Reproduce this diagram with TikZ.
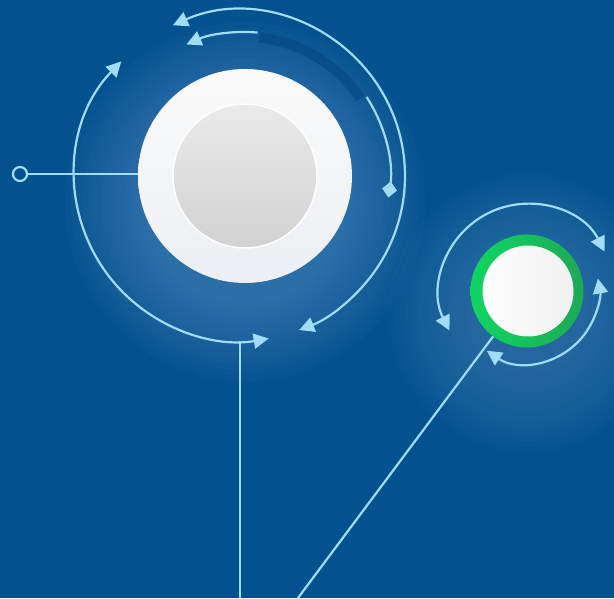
\documentclass[tikz,border=0pt]{standalone}
\usetikzlibrary{arrows.meta}
\definecolor{bgc}{HTML}{04518F}
\definecolor{ln}{HTML}{9FDDF8}
\definecolor{glowA}{HTML}{6BA3D6}
\definecolor{glowB}{HTML}{5F97CC}
\definecolor{bandc}{HTML}{024683}
\definecolor{gA}{HTML}{0ED662}
\definecolor{gB}{HTML}{1CAA54}
\tikzset{
  conn/.style={draw=ln, line width=2.2pt},
  >={Triangle[length=15pt,width=15pt]},
}
\begin{document}
\begin{tikzpicture}[x=1pt,y=1pt]
\fill[bgc] (0,0) rectangle (614,598);
\useasboundingbox (0,0) rectangle (614,598);
% glows
\foreach \r in {180,174,...,100} \fill[glowA, opacity=0.04] (245,396) circle (\r);
\foreach \r in {140,134,...,60} \fill[glowB, opacity=0.035] (528,285) circle (\r);
% dark band
\draw[line width=10pt, bandc, opacity=0.6] ([shift={(245,422)}]84:139) arc[start angle=84,end angle=34,radius=139];
% big disk
\node[circle, minimum size=214pt, inner sep=0pt, top color=white!97!gray, bottom color={rgb,255:red,236;green,239;blue,243}] (big) at (245,422) {};
\node[circle, minimum size=144pt, inner sep=0pt, top color={rgb,255:red,234;green,234;blue,234}, bottom color={rgb,255:red,210;green,210;blue,210}, draw=white, line width=1.5pt] (core) at (245,422) {};
% small ring
\node[circle, minimum size=113pt, inner sep=0pt, left color=gA, right color=gB] (ring) at (527,307) {};
\node[circle, minimum size=90pt, inner sep=0pt, left color=white, right color={rgb,255:red,240;green,240;blue,240}, draw=white!92!gray, line width=1pt] (dot) at (528,307) {};
% left pin
\node[circle, draw=ln, line width=2.2pt, minimum size=14pt, inner sep=0pt, fill=bgc] (pin) at (20,424) {};
\draw[conn] (pin.east) -- (pin -| big.west);
% big arcs
\draw[conn, <->] ([shift={(240,422)}]136:165) arc[start angle=136,end angle=280,radius=165];
\draw[conn, <->] ([shift={(240,422)}]114:165) arc[start angle=114,end angle=-69,radius=165];
\draw[conn, ->] ([shift={(245,422)}]85:144) arc[start angle=85,end angle=114,radius=144];
\draw[conn, -{Diamond[length=16pt,width=15pt]}] ([shift={(245,422)}]33:145) arc[start angle=33,end angle=-8.5,radius=145];
% lines
\coordinate (vtop) at (240,257);
\coordinate (vbot) at (240,0);
\coordinate (dbot) at (298,0);
\draw[conn] (vtop) -- (vbot);
\draw[conn] (ring) -- (dbot);
% small arcs
\draw[conn, <->] ([shift={(527,307)}]207:87) arc[start angle=207,end angle=27,radius=87];
\draw[conn, <->] ([shift={(527,307)}]-124:72) arc[start angle=-124,end angle=10,radius=72];
\end{tikzpicture}
\end{document}
